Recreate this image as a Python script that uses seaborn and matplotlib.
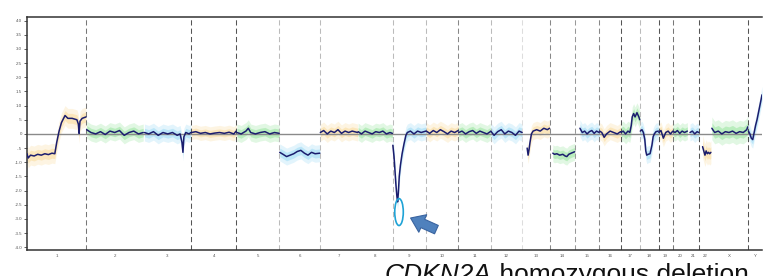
import numpy as np
import pandas as pd
import matplotlib
matplotlib.use('Agg')
import matplotlib.pyplot as plt
from matplotlib.patches import Ellipse
import seaborn as sns

# chromosome sizes (hg19, Mb)
chrom_names = ['1', '2', '3', '4', '5', '6', '7', '8', '9', '10', '11', '12',
               '13', '14', '15', '16', '17', '18', '19', '20', '21', '22', 'X', 'Y']
chrom_len_mb = [249, 243, 198, 191, 181, 171, 159, 146, 141, 136, 135, 134,
                115, 107, 102, 90, 81, 78, 59, 63, 48, 51, 155, 59]

# segmentation line: position within chromosome (Mb) and log2 ratio
line_pos = [
    [0, 5, 15, 30, 45, 60, 75, 90, 105, 117, 125, 135, 145, 160, 172, 190, 210, 216, 219, 223, 232, 248],
    [2, 20, 40, 60, 80, 100, 120, 140, 160, 180, 200, 220, 240],
    [2, 20, 40, 60, 80, 100, 120, 140, 152, 160, 164, 168, 176, 190, 197],
    [2, 20, 40, 60, 80, 100, 120, 140, 160, 180, 190],
    [2, 20, 40, 50, 60, 80, 100, 120, 140, 160, 180],
    [1, 15, 30, 45, 60, 75, 90, 105, 120, 135, 150, 170],
    [1, 15, 30, 45, 60, 75, 90, 105, 120, 135, 158],
    [1, 15, 30, 45, 60, 75, 90, 105, 120, 135, 145],
    [1, 6, 10, 14, 18, 21, 24, 28, 33, 40, 48, 56, 62, 75, 90, 105, 120, 140],
    [1, 15, 30, 45, 60, 75, 90, 105, 120, 135],
    [1, 15, 30, 45, 60, 75, 90, 105, 120, 134],
    [1, 15, 30, 45, 60, 75, 90, 105, 120, 133],
    [20, 24, 28, 32, 38, 45, 60, 75, 90, 105, 114],
    [13, 20, 30, 42, 55, 65, 72, 80, 93, 105],
    [20, 30, 40, 50, 60, 70, 80, 90, 101],
    [1, 10, 20, 30, 45, 60, 75, 89],
    [1, 10, 20, 30, 38, 44, 48, 54, 60, 68, 76, 80],
    [1, 8, 14, 20, 24, 28, 34, 42, 50, 55, 60, 67, 77],
    [1, 10, 20, 30, 40, 50, 58],
    [1, 10, 20, 30, 40, 50, 62],
    [10, 20, 30, 40, 47],
    [15, 20, 25, 30, 35, 40, 45, 50],
    [3, 15, 30, 45, 60, 75, 90, 105, 120, 135, 150, 154],
    [2, 8, 14, 20, 26, 32, 38, 44, 50, 56, 59],
]
line_val = [
    [-0.7, -0.85, -0.75, -0.78, -0.72, -0.75, -0.7, -0.73, -0.68, -0.7, -0.3, 0.1, 0.4, 0.65, 0.55, 0.55, 0.5, 0.35, 0.02, 0.45, 0.55, 0.6],
    [0.15, 0.05, 0.0, 0.08, -0.02, 0.1, 0.05, 0.12, -0.05, 0.05, 0.1, 0.0, 0.05],
    [0.05, 0.0, 0.08, -0.05, 0.05, 0.0, 0.05, -0.05, 0.0, -0.3, -0.65, -0.1, 0.05, 0.0, 0.05],
    [0.05, 0.08, 0.02, 0.05, 0.0, 0.03, 0.05, 0.02, 0.06, 0.0, 0.1],
    [0.05, 0.0, 0.1, 0.2, 0.05, 0.0, 0.05, 0.08, 0.0, 0.05, 0.02],
    [-0.65, -0.72, -0.8, -0.75, -0.7, -0.62, -0.58, -0.68, -0.75, -0.65, -0.7, -0.68],
    [0.05, 0.12, 0.0, 0.1, 0.05, 0.15, 0.02, 0.1, 0.05, 0.1, 0.05],
    [0.08, 0.0, 0.1, 0.05, 0.0, 0.08, 0.05, 0.1, 0.0, 0.05, 0.02],
    [-0.4, -0.8, -1.3, -1.8, -2.2, -2.4, -2.1, -1.5, -1.1, -0.7, -0.35, -0.05, 0.05, 0.1, 0.0, 0.1, 0.05, 0.1],
    [0.1, 0.02, 0.12, 0.05, 0.15, 0.08, 0.0, 0.1, 0.05, 0.12],
    [0.05, 0.1, 0.0, 0.08, 0.12, 0.02, 0.1, 0.05, 0.0, 0.08],
    [0.1, -0.05, 0.08, 0.15, 0.0, 0.1, 0.05, -0.05, 0.1, 0.05],
    [-0.5, -0.75, -0.55, -0.3, 0.0, 0.1, 0.15, 0.1, 0.2, 0.15, 0.2],
    [-0.68, -0.72, -0.7, -0.75, -0.72, -0.78, -0.8, -0.72, -0.67, -0.63],
    [0.2, 0.05, 0.1, 0.0, 0.08, 0.12, 0.02, 0.1, 0.05],
    [0.1, 0.05, -0.12, 0.0, 0.1, 0.05, 0.0, 0.08],
    [0.05, 0.1, 0.0, 0.1, 0.05, 0.3, 0.6, 0.72, 0.6, 0.75, 0.6, 0.5],
    [0.1, 0.15, 0.05, -0.2, -0.6, -0.75, -0.72, -0.7, -0.4, -0.1, 0.0, 0.08, 0.1],
    [0.05, 0.12, -0.15, 0.05, 0.1, 0.0, 0.08],
    [0.1, 0.05, 0.12, 0.02, 0.1, 0.05, 0.1],
    [0.05, 0.1, 0.0, 0.08, 0.05],
    [-0.45, -0.6, -0.75, -0.6, -0.7, -0.65, -0.7, -0.65],
    [0.2, 0.05, 0.1, 0.0, 0.08, 0.05, 0.1, 0.02, 0.08, 0.05, 0.15, 0.25],
    [0.1, 0.0, -0.15, -0.2, 0.05, 0.3, 0.5, 0.75, 1.0, 1.25, 1.38],
]
# half-width of the probe cloud around the line
cloud_spread = [0.35, 0.3, 0.3, 0.25, 0.3, 0.3, 0.3, 0.3, 0.3, 0.3, 0.3, 0.3,
                0.3, 0.3, 0.3, 0.3, 0.35, 0.3, 0.3, 0.3, 0.3, 0.4, 0.4, 0.3]

# styling for the chromosome separators (None = not drawn)
sep_color = ['#777777', None, '#555555', '#555555', '#bbbbbb', '#bbbbbb', None, '#bbbbbb',
             '#bbbbbb', '#888888', '#bbbbbb', '#dddddd', '#888888', '#999999', '#888888',
             '#555555', '#bbbbbb', '#555555', '#777777', None, '#555555', None, '#555555']
cloud_colors = ['#f5b833', '#2fcc3a', '#35b5ea']
line_color = '#1b1d6e'

offsets = np.concatenate([[0], np.cumsum(chrom_len_mb)])
genome_len = offsets[-1]

rows = []
for i, name in enumerate(chrom_names):
    for p, v in zip(line_pos[i], line_val[i]):
        rows.append((name, offsets[i] + p, v))
df = pd.DataFrame(rows, columns=['chrom', 'genome_pos', 'log2'])

sns.set_style('white')
plt.rcParams['font.family'] = ['Liberation Sans', 'DejaVu Sans']

fig = plt.figure(figsize=(7.63, 2.76), dpi=100)
ax = fig.add_axes([27 / 763, 1 - 250 / 276, 735 / 763, 233 / 276])

# probe cloud
for i, name in enumerate(chrom_names):
    sub = df[df['chrom'] == name]
    x = sub['genome_pos'].values
    y = sub['log2'].values
    s = cloud_spread[i]
    c = cloud_colors[i % 3]
    ax.fill_between(x, y - s, y + s, color=c, alpha=0.14, lw=0)
    ax.fill_between(x, y - s * 0.5, y + s * 0.5, color=c, alpha=0.22, lw=0)

ax.axhline(0, color='#8a8a8a', lw=1.0, zorder=1)

for i, c in enumerate(sep_color):
    if c is not None:
        ax.axvline(offsets[i + 1], color=c, lw=0.75, ls=(0, (5, 3)), zorder=1)

sns.lineplot(data=df, x='genome_pos', y='log2', units='chrom', estimator=None,
             sort=False, color=line_color, lw=1.1, ax=ax, zorder=3)

# highlight CDKN2A
c9 = offsets[8]
ax.add_patch(Ellipse((c9 + 27, -2.76), 36, 0.95, fill=False,
                     edgecolor='#1fa3d6', lw=1.2, zorder=4))
ax.annotate('', xy=(c9 + 65, -2.93), xytext=(c9 + 195, -3.42),
            arrowprops=dict(arrowstyle='simple,head_length=0.8,head_width=1.15,tail_width=0.55',
                            mutation_scale=12, fc='#4f81bd', ec='#3a64a0', lw=0.8),
            zorder=4)

ax.set_xlim(0, genome_len)
ax.set_ylim(-4.1, 4.13)
yt = np.arange(-4, 4.01, 0.5)
ax.set_yticks(yt)
ylab = []
for t in yt:
    if abs(t) < 1e-9:
        ylab.append('0')
    elif abs(t) < 1:
        ylab.append(('-' if t < 0 else '') + '.5')
    else:
        ylab.append('%.1f' % t)
ax.set_yticklabels(ylab)

centers = (offsets[:-1] + offsets[1:]) / 2
ax.set_xticks(centers)
ax.set_xticklabels(chrom_names)
ax.set_xticks(offsets[1:-1], minor=True)
ax.tick_params(axis='x', which='major', length=0, labelsize=3.2, labelcolor='#555555', pad=3)
ax.tick_params(axis='x', which='minor', length=2.5, width=0.6, color='#444444', direction='out')
ax.tick_params(axis='y', length=2, width=0.6, labelsize=3.2, labelcolor='#555555', pad=1.5,
               left=True, color='#444444')
ax.set_xlabel('')
ax.set_ylabel('')
for side in ['left', 'bottom', 'top']:
    ax.spines[side].set_color('#333333')
    ax.spines[side].set_linewidth(1.1)
ax.spines['right'].set_visible(False)

# caption, partly cut by the bottom edge as in the original
t1 = fig.text(385 / 763, 1 - 282 / 276, 'CDKN2A', fontsize=19, style='italic',
              ha='left', va='baseline', color='#111111')
fig.canvas.draw()
bb = t1.get_window_extent()
fig.text(bb.x1 / fig.bbox.width, 1 - 282 / 276, ' homozygous deletion', fontsize=19,
         ha='left', va='baseline', color='#111111')

plt.savefig('out.png', dpi=100)
